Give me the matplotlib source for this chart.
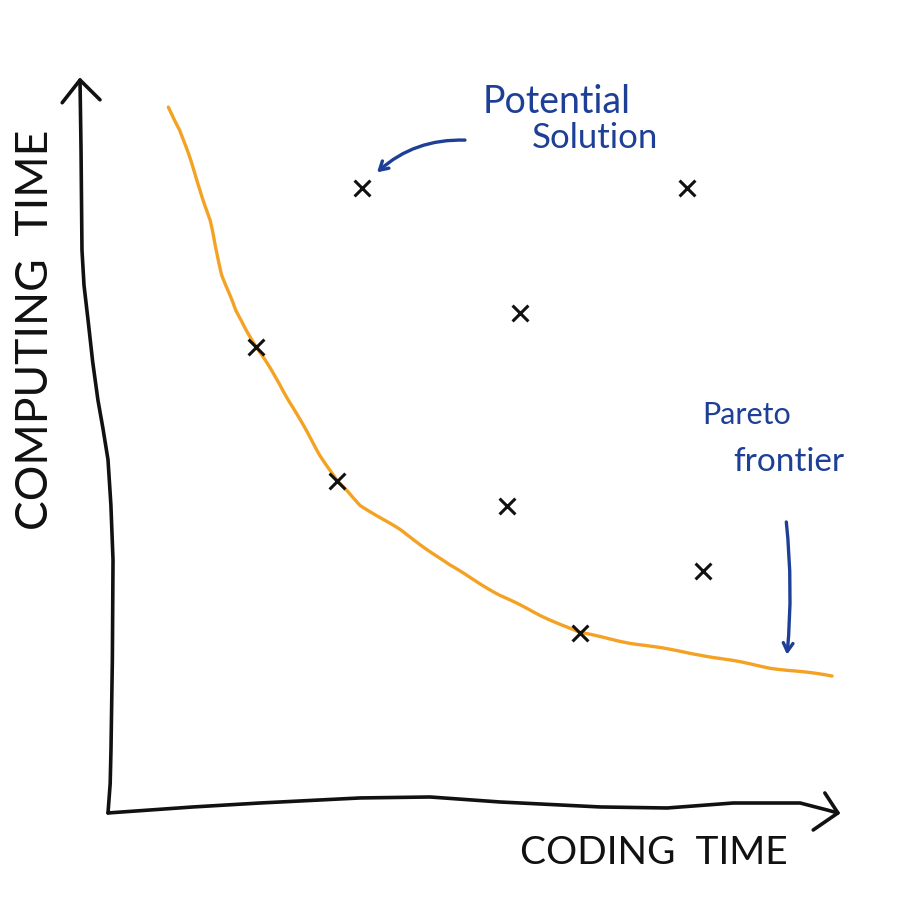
import matplotlib
matplotlib.use("Agg")
import matplotlib.pyplot as plt
import numpy as np

# pareto frontier (coding time, computing time), arbitrary 0-100 units
frontier_x = [8.3, 9.9, 11.3, 12.7, 14.0, 14.7, 15.7, 17.5, 20.4, 23.7, 26.4, 29.2,
              31.5, 34.7, 40.2, 47.0, 53.9, 59.4, 64.9, 71.8, 81.4, 91.1, 99.6]
frontier_y = [96.3, 93.2, 89.1, 85.0, 80.9, 77.5, 73.4, 68.6, 63.6, 58.4, 53.6, 48.8,
              45.3, 42.0, 38.6, 33.8, 29.7, 27.0, 24.6, 23.2, 21.6, 19.8, 18.7]

# candidate solutions
sol_x = [20.4, 31.5, 64.9, 34.9, 56.7, 54.9, 79.6, 81.8]
sol_y = [63.6, 45.3, 24.6, 85.3, 68.2, 41.9, 85.3, 33.0]

# hand drawn axis lines
xaxis_x = [0, 11.7, 20.9, 34.7, 44.3, 53.9, 67.7, 76.9, 86.0, 95.2, 98.9, 100.4]
xaxis_y = [0, 0.82, 1.36, 2.05, 2.18, 1.50, 0.82, 0.68, 1.36, 1.36, 0.41, 0.0]
yaxis_x = [0, 0.3, 0.41, 0.6, 0.69, 0.4, 0.0, -0.7, -1.38, -2.1, -2.75, -3.3, -3.58, -3.71, -3.85]
yaxis_y = [0, 4.0, 8.6, 20.9, 34.5, 42.0, 48.2, 52.5, 56.3, 61.5, 67.3, 72.0, 76.8, 90.5, 100.0]

ink = "#111111"
blue = "#1d3f96"
orange = "#f4a224"
hand = ["Lato", "DejaVu Sans"]

fig = plt.figure(figsize=(9, 9), dpi=100)
ax = fig.add_axes([0.12, 0.0967, 0.8078, 0.8144])
ax.set_xlim(0, 100)
ax.set_ylim(0, 100)
ax.axis("off")

sk = dict(clip_on=False, solid_capstyle="round", solid_joinstyle="round")

# axes
ax.plot(xaxis_x, xaxis_y, color=ink, lw=2.6, **sk)
ax.plot(yaxis_x, yaxis_y, color=ink, lw=2.6, **sk)
ax.plot([98.6, xaxis_x[-1], 97.0], [2.73, xaxis_y[-1], -2.32], color=ink, lw=2.6, **sk)
ax.plot([-6.3, yaxis_x[-1], -1.1], [96.9, yaxis_y[-1], 97.3], color=ink, lw=2.6, **sk)

# frontier
fl, = ax.plot(frontier_x, frontier_y, color=orange, lw=2.4, **sk)
fl.set_sketch_params(0.5, 80, 2)

# solutions
ax.scatter(sol_x, sol_y, marker="x", s=130, color=ink, linewidths=2.2, zorder=3, clip_on=False)

# annotations
ax.annotate("", xy=(37.0, 87.4), xytext=(49.1, 91.8),
            arrowprops=dict(arrowstyle="->,head_length=0.6,head_width=0.35", color=blue, lw=2.4,
                            connectionstyle="arc3,rad=0.2", shrinkA=0, shrinkB=0))
ax.annotate("", xy=(93.4, 21.6), xytext=(93.3, 39.7),
            arrowprops=dict(arrowstyle="->,head_length=0.6,head_width=0.35", color=blue, lw=2.4,
                            connectionstyle="arc3,rad=-0.05", shrinkA=0, shrinkB=0))

fig.text(0.618, 0.887, "Potential", color=blue, fontsize=27, family=hand, ha="center", va="center")
fig.text(0.661, 0.847, "Solution", color=blue, fontsize=25, family=hand, ha="center", va="center")
fig.text(0.830, 0.539, "Pareto", color=blue, fontsize=22, family=hand, ha="center", va="center")
fig.text(0.876, 0.487, "frontier", color=blue, fontsize=24, family=hand, ha="center", va="center")

fig.text(0.726, 0.052, "CODING  TIME", color=ink, fontsize=28, family=hand,
         ha="center", va="center")
fig.text(0.039, 0.633, "COMPUTING  TIME", color=ink, fontsize=32, family=hand,
         ha="center", va="center", rotation=90)

fig.savefig("out.png", dpi=100, facecolor="white")
